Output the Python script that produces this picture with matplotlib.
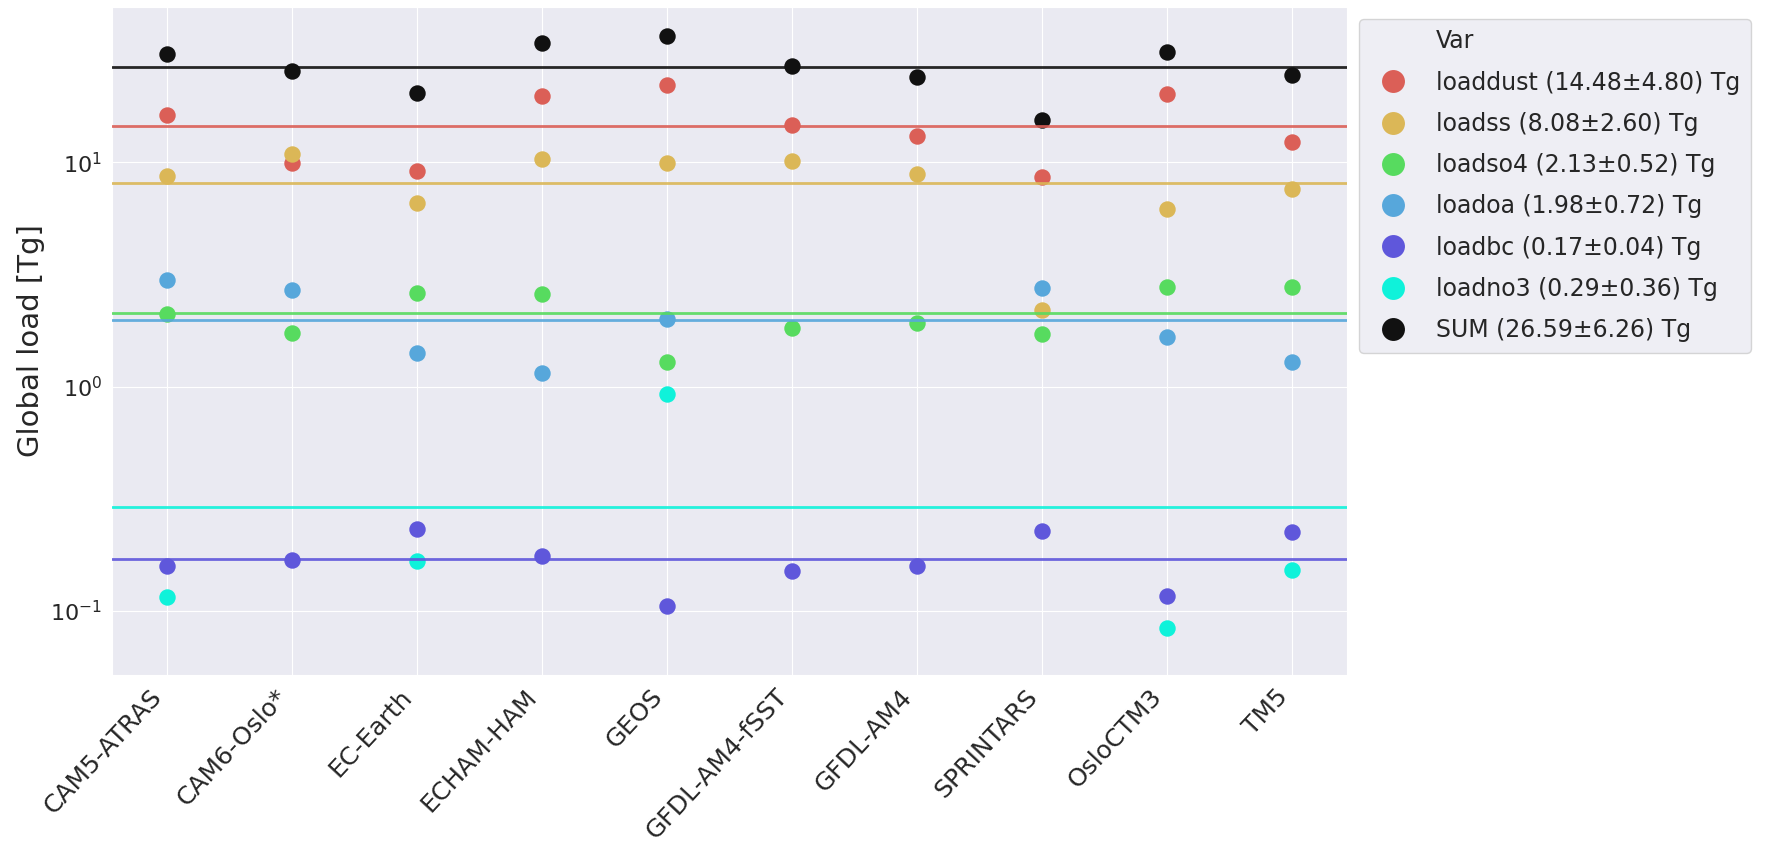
import numpy as np
import matplotlib
matplotlib.use('Agg')
import matplotlib.pyplot as plt
from matplotlib.lines import Line2D
import seaborn as sns

models = ['CAM5-ATRAS', 'CAM6-Oslo*', 'EC-Earth', 'ECHAM-HAM', 'GEOS',
          'GFDL-AM4-fSST', 'GFDL-AM4', 'SPRINTARS', 'OsloCTM3', 'TM5']

variables = ['loaddust', 'loadss', 'loadso4', 'loadoa', 'loadbc', 'loadno3', 'SUM']

# global burden per model [Tg], nan where the model has no output
loaddust = [16.2, 9.9, 9.18, 19.7, 22.1, 14.7, 13.1, 8.6, 20.2, 12.3]
loadss = [8.71, 10.9, 6.58, 10.4, 9.9, 10.1, 8.9, 2.19, 6.21, 7.57]
loadso4 = [2.10, 1.74, 2.62, 2.60, 1.29, 1.83, 1.93, 1.71, 2.79, 2.79]
loadoa = [2.98, 2.70, 1.42, 1.15, 2.00, np.nan, np.nan, 2.76, 1.66, 1.29]
loadbc = [0.158, 0.168, 0.232, 0.175, 0.105, 0.150, 0.158, 0.228, 0.117, 0.224]
loadno3 = [0.115, np.nan, 0.167, np.nan, 0.93, np.nan, np.nan, np.nan, 0.084, 0.153]
load_sum = [30.4, 25.6, 20.3, 34.0, 36.5, 27.0, 24.0, 15.5, 31.2, 24.4]

# multi-model mean and spread
means = [14.48, 8.08, 2.13, 1.98, 0.17, 0.29, 26.59]
stds = [4.80, 2.60, 0.52, 0.72, 0.04, 0.36, 6.26]

series = [loaddust, loadss, loadso4, loadoa, loadbc, loadno3, load_sum]

sns.set_style('darkgrid')
pal = sns.color_palette('hls', 9)
colors = [pal[0], pal[1], pal[3], pal[5], pal[6], '#0ff2da', '#111111']

fig = plt.figure(figsize=(17.67, 8.51), dpi=100)
ax = fig.add_axes([0.0634, 0.2068, 0.699, 0.785])

x = np.arange(len(models))
for vals, c in zip(series, colors):
    ax.scatter(x, vals, s=140, color=c, linewidth=0, zorder=3)
for m, c in zip(means, colors):
    ax.axhline(m, color=c, lw=2, alpha=0.9, zorder=4)

ax.set_yscale('log')
ax.set_ylim(0.0518, 49.3)
ax.set_xlim(-0.44, len(models) - 0.56)
ax.set_xticks(x)
ax.set_xticklabels(models, rotation=47, ha='right', fontsize=18)
ax.tick_params(axis='y', labelsize=16)
ax.yaxis.set_minor_locator(matplotlib.ticker.NullLocator())
ax.set_ylabel('Global load [Tg]', fontsize=21)

handles = [Line2D([], [], linestyle='none', marker='None')]
labels = ['Var']
for v, m, sd, c in zip(variables, means, stds, colors):
    handles.append(Line2D([], [], linestyle='none', marker='o', markersize=16.5,
                          markerfacecolor=c, markeredgewidth=0))
    labels.append(f'{v} ({m:.2f}\u00b1{sd:.2f}) Tg')
ax.legend(handles, labels, loc='upper left', bbox_to_anchor=(1.0, 1.0),
          fontsize=17, labelspacing=0.73, borderpad=0.45, borderaxespad=0.5)

fig.savefig('out.png', dpi=100)
